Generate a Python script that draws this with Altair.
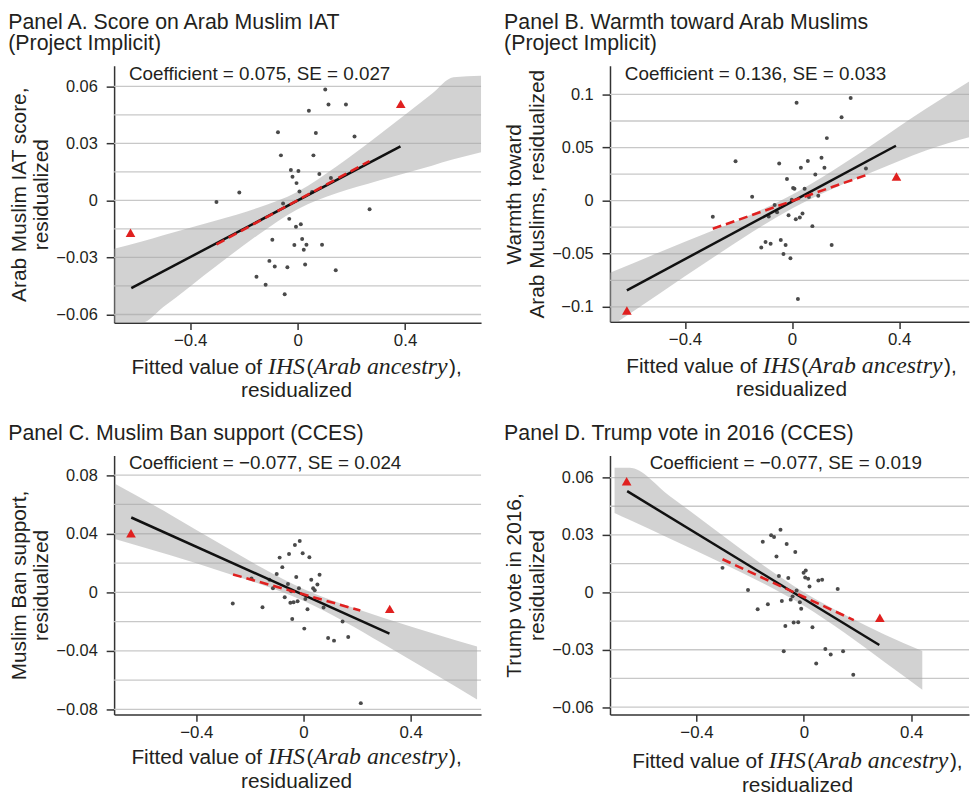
import altair as alt
import pandas as pd

SANS = "Liberation Sans"
SERIF = "Liberation Serif"
TXT = "#231f20"

# ---------------- Panel A ----------------
a_dot_x = [0.103, 0.115, 0.180, 0.042, -0.073, 0.068, 0.212, -0.062, 0.059, -0.025, 0.003, 0.081, -0.019,
           0.124, -0.004, 0.007, 0.054, -0.217, -0.302, -0.054, 0.268, -0.031, 0.012, -0.006, -0.094, 0.017,
           -0.012, 0.033, 0.091, 0.023, -0.105, -0.085, -0.038, 0.028, 0.142, -0.153, -0.119, -0.048]
a_dot_y = [0.0583, 0.0505, 0.0505, 0.0472, 0.0359, 0.0355, 0.0336, 0.0237, 0.0237, 0.0160, 0.0155, 0.0139,
           0.0125, 0.0118, 0.0091, 0.0047, 0.0045, 0.0042, -0.0008, -0.0016, -0.0047, -0.0097, -0.0125, -0.0139,
           -0.0207, -0.0203, -0.0235, -0.0233, -0.0233, -0.0259, -0.0318, -0.0348, -0.0351, -0.0337, -0.0367,
           -0.0402, -0.0444, -0.0494]
a_tri_x = [-0.622, 0.384]
a_tri_y = [-0.0170, 0.0508]
a_fit_x = [-0.619, 0.383]
a_fit_y = [-0.0461, 0.0284]
a_dash_x = [-0.302, 0.268]
a_dash_y = [-0.0231, 0.0207]
a_band_x = [-0.683, -0.58, -0.5, -0.3, -0.15, 0.0, 0.15, 0.3, 0.5, 0.58, 0.683]
a_band_lo = [-0.0643, -0.0643, -0.0561, -0.0342, -0.0184, -0.0046, 0.0040, 0.0104, 0.0183, 0.0216, 0.0254]
a_band_hi = [-0.0254, -0.0216, -0.0183, -0.0104, -0.0040, 0.0046, 0.0184, 0.0342, 0.0561, 0.0648, 0.0656]
a_grid = [-0.06, -0.045, -0.03, -0.015, 0.0, 0.015, 0.03, 0.045, 0.06]
a_yticks = [-0.06, -0.03, 0.0, 0.03, 0.06]

# ---------------- Panel B ----------------
b_dot_x = [0.017, 0.219, 0.185, 0.130, -0.211, -0.048, 0.059, 0.110, 0.033, 0.121, 0.276, 0.087, -0.019,
           0.004, 0.009, 0.047, -0.149, 0.063, 0.098, -0.001, -0.065, -0.056, -0.087, -0.013, 0.039, 0.029,
           0.014, 0.076, -0.042, -0.099, -0.080, -0.024, 0.148, -0.115, -0.032, -0.006, 0.022, -0.296]
b_dot_y = [0.0923, 0.0966, 0.0785, 0.0589, 0.0371, 0.0349, 0.0374, 0.0405, 0.0309, 0.0309, 0.0302, 0.0246,
           0.0203, 0.0119, 0.0112, 0.0112, 0.0037, 0.0035, 0.0047, 0.0009, -0.0040, -0.0109, -0.0150, -0.0137,
           -0.0122, -0.0159, -0.0175, -0.0240, -0.0371, -0.0390, -0.0405, -0.0418, -0.0418, -0.0442, -0.0502,
           -0.0542, -0.0926, -0.0152]
b_tri_x = [-0.617, 0.390]
b_tri_y = [-0.1035, 0.0227]
b_fit_x = [-0.617, 0.388]
b_fit_y = [-0.0845, 0.0517]
b_dash_x = [-0.296, 0.276]
b_dash_y = [-0.0265, 0.0240]
b_band_x = [-0.68, -0.5, -0.3, -0.15, 0.0, 0.15, 0.3, 0.5, 0.68]
b_band_lo = [-0.119, -0.0883, -0.0545, -0.0298, -0.0074, 0.0109, 0.0269, 0.0473, 0.0610]
b_band_hi = [-0.0680, -0.0491, -0.0287, -0.0127, 0.0056, 0.0280, 0.0527, 0.0865, 0.1150]
b_grid = [-0.1, -0.075, -0.05, -0.025, 0.0, 0.025, 0.05, 0.075, 0.1]
b_yticks = [-0.1, -0.05, 0.0, 0.05, 0.1]

# ---------------- Panel C ----------------
c_dot_x = [-0.014, -0.032, -0.089, -0.054, -0.003, 0.022, -0.079, -0.100, -0.027, 0.060, 0.029, 0.052, -0.058,
           0.036, 0.042, -0.114, -0.017, -0.046, -0.194, -0.127, -0.070, -0.049, -0.037, -0.022, 0.007, -0.264,
           -0.153, 0.015, 0.075, -0.042, 0.146, 0.003, 0.092, 0.114, 0.167, 0.214]
c_dot_y = [0.0351, 0.0323, 0.0237, 0.0262, 0.0267, 0.0240, 0.0172, 0.0125, 0.0104, 0.0120, 0.0086, 0.0054,
           0.0057, 0.0027, 0.0014, 0.0027, 0.0027, 0.0007, 0.0095, 0.0086, -0.0034, -0.0072, -0.0068, -0.0061,
           -0.0045, -0.0077, -0.0102, -0.0115, -0.0104, -0.0183, -0.0199, -0.0248, -0.0312, -0.0330, -0.0305,
           -0.0757]
c_tri_x = [-0.644, 0.322]
c_tri_y = [0.0403, -0.0113]
c_fit_x = [-0.643, 0.321]
c_fit_y = [0.0511, -0.0282]
c_dash_x = [-0.263, 0.212]
c_dash_y = [0.0122, -0.0124]
c_band_x = [-0.704, -0.5, -0.3, -0.15, 0.0, 0.15, 0.3, 0.5, 0.648]
c_band_lo = [0.0364, 0.0254, 0.0139, 0.0048, -0.0058, -0.0198, -0.0355, -0.0570, -0.0732]
c_band_hi = [0.0742, 0.0534, 0.0319, 0.0162, 0.0022, -0.0084, -0.0175, -0.0290, -0.0370]
c_grid = [-0.08, -0.06, -0.04, -0.02, 0.0, 0.02, 0.04, 0.06, 0.08]
c_yticks = [-0.08, -0.04, 0.0, 0.04, 0.08]

# ---------------- Panel D ----------------
d_dot_x = [-0.087, -0.122, -0.111, -0.153, -0.064, -0.032, -0.102, -0.303, 0.007, -0.001, -0.093, -0.058, 0.005,
           0.016, 0.054, 0.068, 0.021, 0.126, -0.208, -0.027, -0.042, -0.049, -0.082, -0.015, -0.134, -0.172,
           -0.010, -0.038, -0.021, -0.069, 0.032, 0.080, 0.100, 0.146, -0.075, 0.046, 0.184]
d_dot_y = [0.0327, 0.0298, 0.0289, 0.0265, 0.0253, 0.0211, 0.0187, 0.0128, 0.0114, 0.0102, 0.0085, 0.0075,
           0.0078, 0.0071, 0.0062, 0.0066, 0.0031, 0.0018, 0.0012, 0.0010, -0.0021, -0.0038, -0.0045, -0.0052,
           -0.0062, -0.0088, -0.0086, -0.0157, -0.0156, -0.0176, -0.0182, -0.0296, -0.0325, -0.0308, -0.0308,
           -0.0372, -0.0431]
d_tri_x = [-0.660, 0.283]
d_tri_y = [0.0581, -0.0133]
d_fit_x = [-0.658, 0.281]
d_fit_y = [0.0529, -0.0275]
d_dash_x = [-0.303, 0.186]
d_dash_y = [0.0173, -0.0145]
d_band_x = [-0.705, -0.65, -0.5, -0.3, -0.15, 0.0, 0.15, 0.3, 0.441]
d_band_lo = [0.0415, 0.0379, 0.0282, 0.0150, 0.0046, -0.0070, -0.0210, -0.0364, -0.0509]
d_band_hi = [0.0651, 0.0651, 0.0504, 0.0294, 0.0140, 0.0000, -0.0116, -0.0220, -0.0306]
d_grid = [-0.06, -0.045, -0.03, -0.015, 0.0, 0.015, 0.03, 0.045, 0.06]
d_yticks = [-0.06, -0.03, 0.0, 0.03, 0.06]

x_ticks = [-0.4, 0.0, 0.4]

titles = {
    "A": ["Panel A. Score on Arab Muslim IAT", "(Project Implicit)"],
    "B": ["Panel B. Warmth toward Arab Muslims", "(Project Implicit)"],
    "C": ["Panel C. Muslim Ban support (CCES)"],
    "D": ["Panel D. Trump vote in 2016 (CCES)"],
}
ytitles = {
    "A": ["Arab Muslim IAT score,", "residualized"],
    "B": ["Warmth toward", "Arab Muslims, residualized"],
    "C": ["Muslim Ban support,", "residualized"],
    "D": ["Trump vote in 2016,", "residualized"],
}
coefs = {
    "A": "Coefficient = 0.075, SE = 0.027",
    "B": "Coefficient = 0.136, SE = 0.033",
    "C": "Coefficient = \u22120.077, SE = 0.024",
    "D": "Coefficient = \u22120.077, SE = 0.019",
}

# x-axis title pieces: (text, serif-italic?)
xt_pieces = [("Fitted value of ", False), ("IHS", True), ("(", False), ("Arab ancestry", True), ("),", False)]
SANS_SIZE = 21
SERIF_SIZE = 24
# approximate advance widths (em) for layout of the mixed-font title
piece_em = {"Fitted value of ": 6.559, "IHS": 1.555, "(": 0.333, "Arab ancestry": 5.638, "),": 0.611}


def text_layer(txt, x, y, font=SANS, size=SANS_SIZE, style="normal", align="left"):
    return alt.Chart(pd.DataFrame({"t": [txt]})).mark_text(
        align=align, baseline="alphabetic", font=font, fontSize=size, fontStyle=style, color=TXT
    ).encode(x=alt.value(x), y=alt.value(y), text="t:N")


def panel(key, dx, dy, tx, ty, fx, fy, qx, qy, bx, blo, bhi, grid, yticks, xdom, ydom, w, h,
          coef_x, xt_center, xt_y1, xt_y2):
    xs = alt.Scale(domain=xdom, nice=False, zero=False)
    ys = alt.Scale(domain=ydom, nice=False, zero=False)
    xax = alt.Axis(values=x_ticks, format="~g", title=None, grid=False, tickSize=7, tickWidth=1.5,
                   tickColor="#333333", domainColor="#333333", domainWidth=1.5, labelFontSize=17,
                   labelFont=SANS, labelColor=TXT, labelPadding=3)
    yax = alt.Axis(values=yticks, format="~g", title=ytitles[key], grid=False, tickSize=8, tickWidth=1.5,
                   tickColor="#333333", domainColor="#333333", domainWidth=1.5, labelFontSize=16.5,
                   labelFont=SANS, labelColor=TXT, labelPadding=9, titleFontSize=21, titleFont=SANS,
                   titleFontWeight="normal", titleColor=TXT, titlePadding=4, titleLineHeight=23)

    def X(f):
        return alt.X(f, type="quantitative", scale=xs, axis=xax)

    def Y(f):
        return alt.Y(f, type="quantitative", scale=ys, axis=yax)

    g = alt.Chart(pd.DataFrame({"g": grid})).mark_rule(color="#c8c8c8", strokeWidth=1.3).encode(y=Y("g"))
    band = alt.Chart(pd.DataFrame({"bx": bx, "lo": blo, "hi": bhi})).mark_area(
        color="#a6a6a6", opacity=0.5, interpolate="monotone", clip=True
    ).encode(x=X("bx"), y=Y("lo"), y2=alt.Y2("hi"))
    dots = alt.Chart(pd.DataFrame({"dx": dx, "dy": dy})).mark_circle(
        color="#4a4a4a", size=16, opacity=1
    ).encode(x=X("dx"), y=Y("dy"))
    fit = alt.Chart(pd.DataFrame({"fx": fx, "fy": fy})).mark_line(
        color="#111111", strokeWidth=2.5
    ).encode(x=X("fx"), y=Y("fy"))
    dash = alt.Chart(pd.DataFrame({"qx": qx, "qy": qy})).mark_line(
        color="#e0201f", strokeWidth=2.6, strokeDash=[9, 5]
    ).encode(x=X("qx"), y=Y("qy"))
    tri = alt.Chart(pd.DataFrame({"tx": tx, "ty": ty})).mark_point(
        shape="triangle-up", filled=True, color="#e0201f", size=95, opacity=1
    ).encode(x=X("tx"), y=Y("ty"))

    layers = [g, band, dots, fit, dash, tri, text_layer(coefs[key], coef_x, 14, size=19)]

    widths = [piece_em[t] * (SERIF_SIZE if s else SANS_SIZE) + (1.5 if s else 0) for t, s in xt_pieces]
    x0 = xt_center - sum(widths) / 2
    for (t, s), wd in zip(xt_pieces, widths):
        if s:
            layers.append(text_layer(t, x0, h + xt_y1, font=SERIF, size=SERIF_SIZE, style="italic"))
        else:
            layers.append(text_layer(t, x0, h + xt_y1))
        x0 += wd
    layers.append(text_layer("residualized", xt_center, h + xt_y2, align="center"))

    return alt.layer(*layers).properties(
        width=w, height=h,
        title=alt.TitleParams(text=titles[key], anchor="start", fontSize=21.5, font=SANS, fontWeight="normal",
                              color=TXT, lineHeight=22, offset=10),
    )


pA = panel("A", a_dot_x, a_dot_y, a_tri_x, a_tri_y, a_fit_x, a_fit_y, a_dash_x, a_dash_y,
           a_band_x, a_band_lo, a_band_hi, a_grid, a_yticks, [-0.683, 0.683], [-0.0643, 0.0708],
           370, 259, 15, 184, 52, 75)
pB = panel("B", b_dot_x, b_dot_y, b_tri_x, b_tri_y, b_fit_x, b_fit_y, b_dash_x, b_dash_y,
           b_band_x, b_band_lo, b_band_hi, b_grid, b_yticks, [-0.68, 0.661], [-0.114, 0.127],
           362, 258, 15, 183, 52, 75)
pC = panel("C", c_dot_x, c_dot_y, c_tri_x, c_tri_y, c_fit_x, c_fit_y, c_dash_x, c_dash_y,
           c_band_x, c_band_lo, c_band_hi, c_grid, c_yticks, [-0.707, 0.663], [-0.0834, 0.0934],
           370, 261, 15, 184, 50, 74)
pD = panel("D", d_dot_x, d_dot_y, d_tri_x, d_tri_y, d_fit_x, d_fit_y, d_dash_x, d_dash_y,
           d_band_x, d_band_lo, d_band_hi, d_grid, d_yticks, [-0.722, 0.615], [-0.0638, 0.0715],
           362, 261, 40, 189, 54, 78)

top = alt.hconcat(pA, pB, spacing=22)
bottom = alt.hconcat(pC, pD, spacing=22)
chart = alt.vconcat(top, bottom, spacing=22).properties(
    padding={"left": 0, "top": 0, "right": 0, "bottom": 0}
).configure(background="white").configure_view(stroke=None)

chart.save("out.html", embed_options={"renderer": "svg", "actions": False})
